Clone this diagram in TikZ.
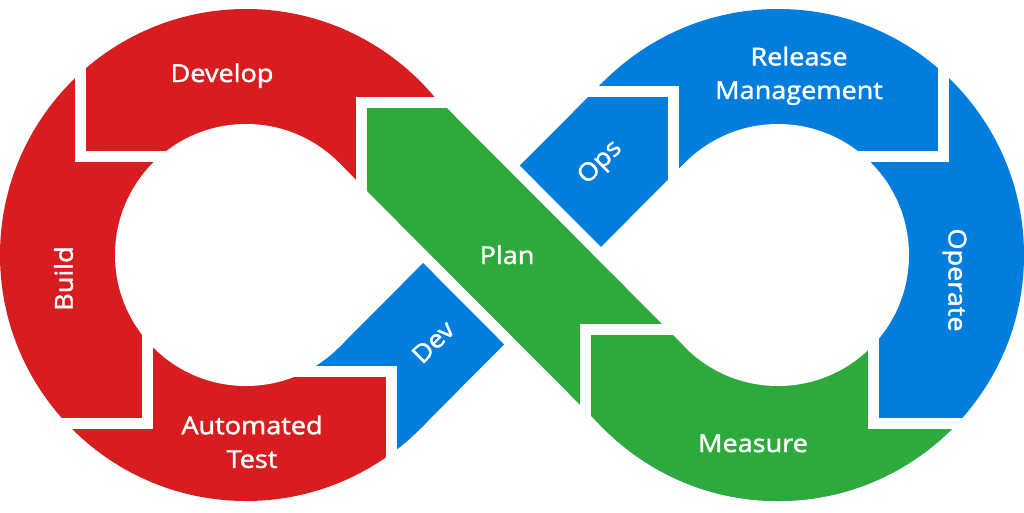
\documentclass[tikz,border=0pt]{standalone}
\usepackage{fontspec}
\setmainfont{Open Sans}[FakeStretch=1.1,FakeBold=1.6]
\definecolor{dred}{RGB}{216,29,32}
\definecolor{dblue}{RGB}{1,125,221}
\definecolor{dgreen}{RGB}{45,170,59}
\begin{document}
\begin{tikzpicture}[x=1pt,y=-1pt,
  gap/.style={draw=white,line width=11pt},
  hole/.style={fill=white},
  lbl/.style={text=white,font=\fontsize{24.6}{33.6}\selectfont,inner sep=0pt,align=center}]
\useasboundingbox (0,0) rectangle (1024,512);
% centres and tangent points
\coordinate (C1) at (246,255);
\coordinate (C2) at (778,255);
\coordinate (A1) at (419.95,81.05);
\coordinate (A2) at (338.63,162.37);
\coordinate (A3) at (604.05,428.95);
\coordinate (A4) at (685.37,347.63);
\coordinate (B1) at (419.95,428.95);
\coordinate (B2) at (338.63,347.63);
\coordinate (B3) at (604.05,81.05);
\coordinate (B4) at (685.37,162.37);
\coordinate (HL) at (430.86,255);
\coordinate (HR) at (593.14,255);
% rings
\fill[dred] (C1) circle[radius=246];
\fill[dblue] (C2) circle[radius=246];
% Dev patch and Plan tail on left ring
\begin{scope}
  \clip (C1) circle[radius=246];
  \fill[dblue] (250,255) -- (512,255) -- (512,512) -- (391.5,512) -- (391.5,371) -- (250,371) -- cycle;
  \fill[dgreen] (361.5,102.5) rectangle (480,240);
\end{scope}
% Measure patch on right ring
\begin{scope}
  \clip (C2) circle[radius=246];
  \fill[dgreen] (585.5,329.5) -- (873.5,329.5) -- (873.5,423) -- (1024,423) -- (1024,512) -- (585.5,512) -- cycle;
\end{scope}
% Dev / Ops band
\begin{scope}
  \clip (0,0) rectangle (1024,371) (391.5,371) rectangle (1024,512);
  \fill[dblue] (B2) -- (B3) -- (B4) -- (B1) -- cycle;
\end{scope}
% holes
\fill[hole] (C1) circle[radius=131];
\fill[hole] (A2) -- (B2) -- (HL) -- cycle;
\fill[hole] (C2) circle[radius=131];
\fill[hole] (B4) -- (A4) -- (HR) -- cycle;
% white halo around Plan where it crosses the blue band
\draw[gap] (503.9,157.57) -- (615.8,269.9);
\draw[gap] (408.1,239.95) -- (521.0,353.3);
% Plan band
\begin{scope}
  \clip (361.5,102.5) rectangle (1024,512);
  \fill[dgreen] (A1) -- (A4) -- (A3) -- (A2) -- cycle;
\end{scope}
% gaps between segments
\coordinate (g1a) at (80,40);    \coordinate (g1b) at (80,156.5);    \coordinate (g1c) at (200,156.5);
\coordinate (g2a) at (361.5,210); \coordinate (g2b) at (361.5,102.5); \coordinate (g2c) at (475,102.5);
\coordinate (g3a) at (147.5,300); \coordinate (g3b) at (147.5,423.5); \coordinate (g3c) at (20,423.5);
\coordinate (g4a) at (280,371);   \coordinate (g4b) at (391.5,371);   \coordinate (g4c) at (391.5,490);
\coordinate (g6a) at (585.5,450); \coordinate (g6b) at (585.5,329.5); \coordinate (g6c) at (700,329.5);
\coordinate (g7a) at (873.5,330); \coordinate (g7b) at (873.5,423);   \coordinate (g7c) at (1024,423);
\coordinate (g8a) at (943.5,40);  \coordinate (g8b) at (943.5,156.5); \coordinate (g8c) at (830,156.5);
\coordinate (g9a) at (560,91.5);  \coordinate (g9b) at (673.5,91.5);  \coordinate (g9c) at (673.5,195);
\draw[gap] (g1a) -- (g1b) -- (g1c);
\draw[gap] (g2a) -- (g2b) -- (g2c);
\draw[gap] (g3a) -- (g3b) -- (g3c);
\draw[gap] (g4a) -- (g4b) -- (g4c);
\draw[gap] (g6a) -- (g6b) -- (g6c);
\draw[gap] (g7a) -- (g7b) -- (g7c);
\draw[gap] (g8a) -- (g8b) -- (g8c);
\draw[gap] (g9a) -- (g9b) -- (g9c);
% labels
\node[lbl,anchor=base] (develop) at (222,82) {Develop};
\node[lbl,rotate=90] (build) at (63.5,278.5) {Build};
\node[lbl] (autotest) at (252,441.8) {Automated\\Test};
\node[lbl,rotate=45] (dev) at (433,342) {Dev};
\node[lbl,anchor=base] (plan) at (507,264) {Plan};
\node[lbl,rotate=45] (ops) at (600.7,163) {Ops};
\node[lbl] (relman) at (799,75.8) {Release\\Management};
\node[lbl,rotate=-90] (operate) at (954.5,280) {Operate};
\node[lbl,anchor=base] (measure) at (753,452) {Measure};
\end{tikzpicture}
\end{document}
